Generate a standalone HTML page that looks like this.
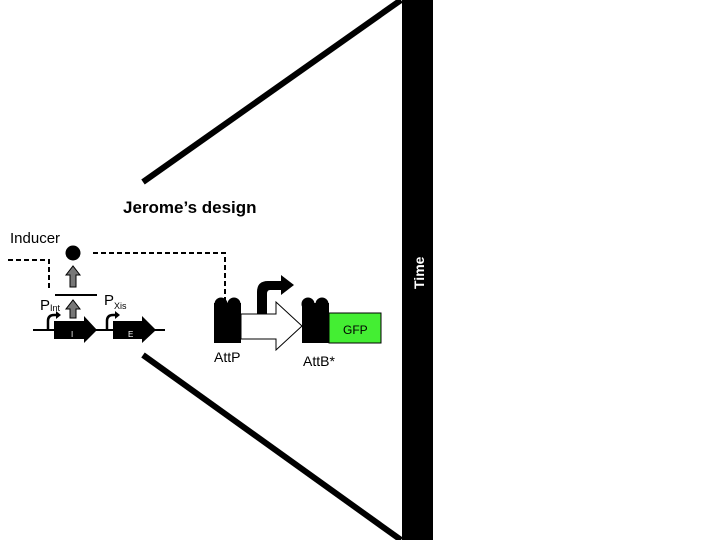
<!DOCTYPE html>
<html><head><meta charset="utf-8"><style>
body{margin:0;width:720px;height:540px;background:#fff;overflow:hidden;font-family:"Liberation Sans",sans-serif}
</style></head><body>
<svg width="720" height="540" xmlns="http://www.w3.org/2000/svg" style="position:absolute;left:0;top:0">
<rect x="402" y="0" width="31" height="540" fill="#000"/>
<text x="0" y="0" transform="translate(424,289) rotate(-90)" fill="#fff" font-weight="bold" font-size="14">Time</text>
<line x1="143" y1="182" x2="401" y2="0" stroke="#000" stroke-width="6"/>
<line x1="143" y1="355" x2="401" y2="540" stroke="#000" stroke-width="6"/>
<text x="123" y="213" font-weight="bold" font-size="17">Jerome’s design</text>
<text x="10" y="243" font-size="15">Inducer</text>
<polyline points="8,260 49,260 49,288" fill="none" stroke="#000" stroke-width="2" stroke-dasharray="5,3"/>
<polyline points="93,253 225,253 225,302" fill="none" stroke="#000" stroke-width="2" stroke-dasharray="5,3"/>
<circle cx="73" cy="253" r="7.5" fill="#000"/>
<path d="M70,287 V275 H66 L73,266 L80,275 H76 V287 Z" fill="#777" stroke="#000" stroke-width="1"/>
<line x1="55" y1="295" x2="97" y2="295" stroke="#000" stroke-width="2"/>
<path d="M70,318 V309 H66 L73,300 L80,309 H76 V318 Z" fill="#777" stroke="#000" stroke-width="1"/>
<line x1="33" y1="330" x2="165" y2="330" stroke="#000" stroke-width="2"/>
<path d="M54,321 H84 V316 L97,330 L84,343 V339 H54 Z" fill="#000"/>
<text x="71" y="337" fill="#fff" font-size="8">I</text>
<path d="M113,321 H142 V316 L156,330 L142,343 V339 H113 Z" fill="#000"/>
<text x="128" y="337" fill="#fff" font-size="8">E</text>
<path d="M48,330 V321 Q48,315 54,315 H57" fill="none" stroke="#000" stroke-width="2.5"/>
<path d="M56,311 L61,315 L56,319 Z" fill="#000"/>
<path d="M107,330 V321 Q107,315 113,315 H116" fill="none" stroke="#000" stroke-width="2.5"/>
<path d="M115,311 L120,315 L115,319 Z" fill="#000"/>
<text x="40" y="310" font-size="15">P</text><text x="50" y="311" font-size="9">Int</text>
<text x="104" y="305" font-size="15">P</text><text x="114" y="309" font-size="9">Xis</text>
<rect x="214" y="303" width="27" height="40" fill="#000"/>
<circle cx="221" cy="304" r="6.5" fill="#000"/><circle cx="234" cy="304" r="6.5" fill="#000"/>
<path d="M241,314 H276 V302 L302,326 L276,350 V339 H241 Z" fill="#fff" stroke="#000" stroke-width="1"/>
<path d="M257,314 V292 Q257,281 268,281 H281 V275 L294,285 L281,295 V290 H270 Q267,290 267,294 V314 Z" fill="#000"/>
<rect x="302" y="303" width="27" height="40" fill="#000"/>
<circle cx="308" cy="304" r="6.5" fill="#000"/><circle cx="322" cy="304" r="6.5" fill="#000"/>
<rect x="329" y="313" width="52" height="30" fill="#44ee33" stroke="#000" stroke-width="1"/>
<text x="343" y="334" font-size="12">GFP</text>
<text x="214" y="362" font-size="14">AttP</text>
<text x="303" y="366" font-size="14">AttB*</text>
</svg>
</body></html>
